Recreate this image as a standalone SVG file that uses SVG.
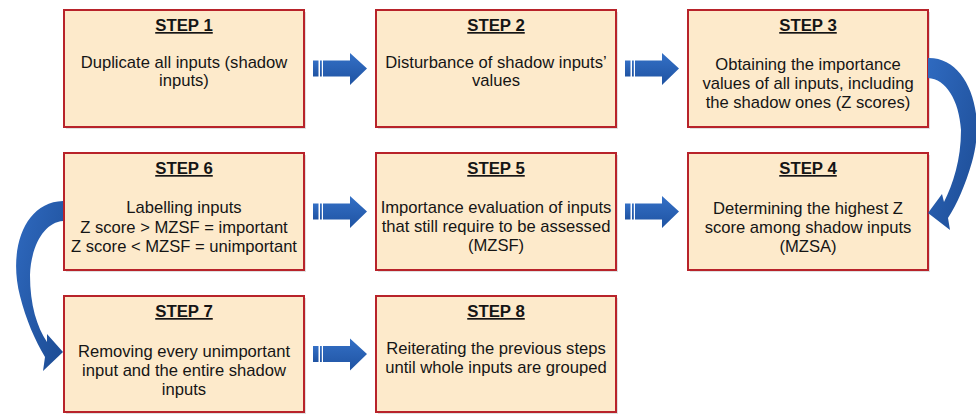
<svg xmlns="http://www.w3.org/2000/svg" xmlns:xlink="http://www.w3.org/1999/xlink" width="976" height="414" viewBox="0 0 976 414">
  <style>
    .box { fill: #fdeacb; stroke: #b8232a; stroke-width: 2; }
    .shadow { fill: #000; opacity: 0.12; }
    .title { font-family: "Liberation Sans", Arial, sans-serif; font-size: 16.8px; font-weight: bold; fill: #151515; text-anchor: middle; text-decoration: underline; }
    .body { font-family: "Liberation Sans", Arial, sans-serif; font-size: 16.6px; fill: #151515; text-anchor: middle; }
    .arrow { fill: url(#blueV); }
    .curve { fill: url(#blueC); }
  </style>
  <defs>
    <linearGradient id="blueV" x1="0" y1="0" x2="0" y2="1">
      <stop offset="0" stop-color="#3470c6"/>
      <stop offset="1" stop-color="#1f53a2"/>
    </linearGradient>
    <linearGradient id="blueC" x1="0" y1="0" x2="1" y2="1">
      <stop offset="0" stop-color="#2f6ac0"/>
      <stop offset="1" stop-color="#1c4b93"/>
    </linearGradient>
    <!-- striped block arrow, origin at its left edge / vertical centre -->
    <g id="striped">
      <rect x="0" y="-8" width="5.5" height="16"/>
      <rect x="7" y="-8" width="1.8" height="16"/>
      <path d="M10,-8 H37 V-15.5 L54,0 L37,16.5 V8 H10 Z"/>
    </g>
  </defs>

  <!-- nodes -->
  <g id="step1">
    <rect class="shadow" x="66" y="12" width="240" height="117"/>
    <rect class="box" x="64" y="10" width="240" height="117"/>
    <text class="title" x="184" y="31">STEP 1</text>
    <text class="body" x="184" y="67.5">Duplicate all inputs (shadow</text>
    <text class="body" x="184" y="86">inputs)</text>
  </g>
  <g id="step2">
    <rect class="shadow" x="378" y="12" width="240" height="117"/>
    <rect class="box" x="376" y="10" width="240" height="117"/>
    <text class="title" x="496" y="31">STEP 2</text>
    <text class="body" x="496" y="67.5">Disturbance of shadow inputs’</text>
    <text class="body" x="496" y="86">values</text>
  </g>
  <g id="step3">
    <rect class="shadow" x="690" y="12" width="240" height="117"/>
    <rect class="box" x="688" y="10" width="240" height="117"/>
    <text class="title" x="808" y="31">STEP 3</text>
    <text class="body" x="808" y="70">Obtaining the importance</text>
    <text class="body" x="808" y="89">values of all inputs, including</text>
    <text class="body" x="808" y="108">the shadow ones (Z scores)</text>
  </g>
  <g id="step4">
    <rect class="shadow" x="690" y="155" width="240" height="117"/>
    <rect class="box" x="688" y="153" width="240" height="117"/>
    <text class="title" x="808" y="174">STEP 4</text>
    <text class="body" x="808" y="214">Determining the highest Z</text>
    <text class="body" x="808" y="233">score among shadow inputs</text>
    <text class="body" x="808" y="252">(MZSA)</text>
  </g>
  <g id="step5">
    <rect class="shadow" x="378" y="155" width="240" height="117"/>
    <rect class="box" x="376" y="153" width="240" height="117"/>
    <text class="title" x="496" y="174">STEP 5</text>
    <text class="body" x="496" y="213">Importance evaluation of inputs</text>
    <text class="body" x="496" y="232">that still require to be assessed</text>
    <text class="body" x="496" y="251">(MZSF)</text>
  </g>
  <g id="step6">
    <rect class="shadow" x="66" y="155" width="240" height="117"/>
    <rect class="box" x="64" y="153" width="240" height="117"/>
    <text class="title" x="184" y="174">STEP 6</text>
    <text class="body" x="184" y="213">Labelling inputs</text>
    <text class="body" x="184" y="232.5">Z score &gt; MZSF = important</text>
    <text class="body" x="184" y="252">Z score &lt; MZSF = unimportant</text>
  </g>
  <g id="step7">
    <rect class="shadow" x="66" y="298" width="240" height="116"/>
    <rect class="box" x="64" y="296" width="240" height="116"/>
    <text class="title" x="184" y="317">STEP 7</text>
    <text class="body" x="184" y="357">Removing every unimportant</text>
    <text class="body" x="184" y="376">input and the entire shadow</text>
    <text class="body" x="184" y="395">inputs</text>
  </g>
  <g id="step8">
    <rect class="shadow" x="378" y="298" width="240" height="116"/>
    <rect class="box" x="376" y="296" width="240" height="116"/>
    <text class="title" x="496" y="317">STEP 8</text>
    <text class="body" x="496" y="353.5">Reiterating the previous steps</text>
    <text class="body" x="496" y="372.5">until whole inputs are grouped</text>
  </g>

  <!-- connectors -->
  <g id="connectors">
    <use xlink:href="#striped" class="arrow" transform="translate(313,68.5)"/>
    <use xlink:href="#striped" class="arrow" transform="translate(625,68.5)"/>
    <use xlink:href="#striped" class="arrow" transform="translate(313,211.5)"/>
    <use xlink:href="#striped" class="arrow" transform="translate(625,211.5)"/>
    <use xlink:href="#striped" class="arrow" transform="translate(313,354)"/>
    <!-- step 3 to step 4, bending round the right side -->
    <path class="curve" d="M928,58 C966,57 987,110 972,162 C965,186 957,204 948,218 L950,230 L928,213 L942,194 L944,202 C953,184 961,160 961,130 C959,100 946,79 928,78 Z"/>
    <!-- step 6 to step 7, bending round the left side -->
    <path class="curve" d="M63,201 C24,202 8,250 20,296 C26,320 35,340 45,357 L43,371 L63,352 L47,334 L47,342 C37,327 30,305 30,275 C31,245 45,222 63,221 Z"/>
  </g>
</svg>
